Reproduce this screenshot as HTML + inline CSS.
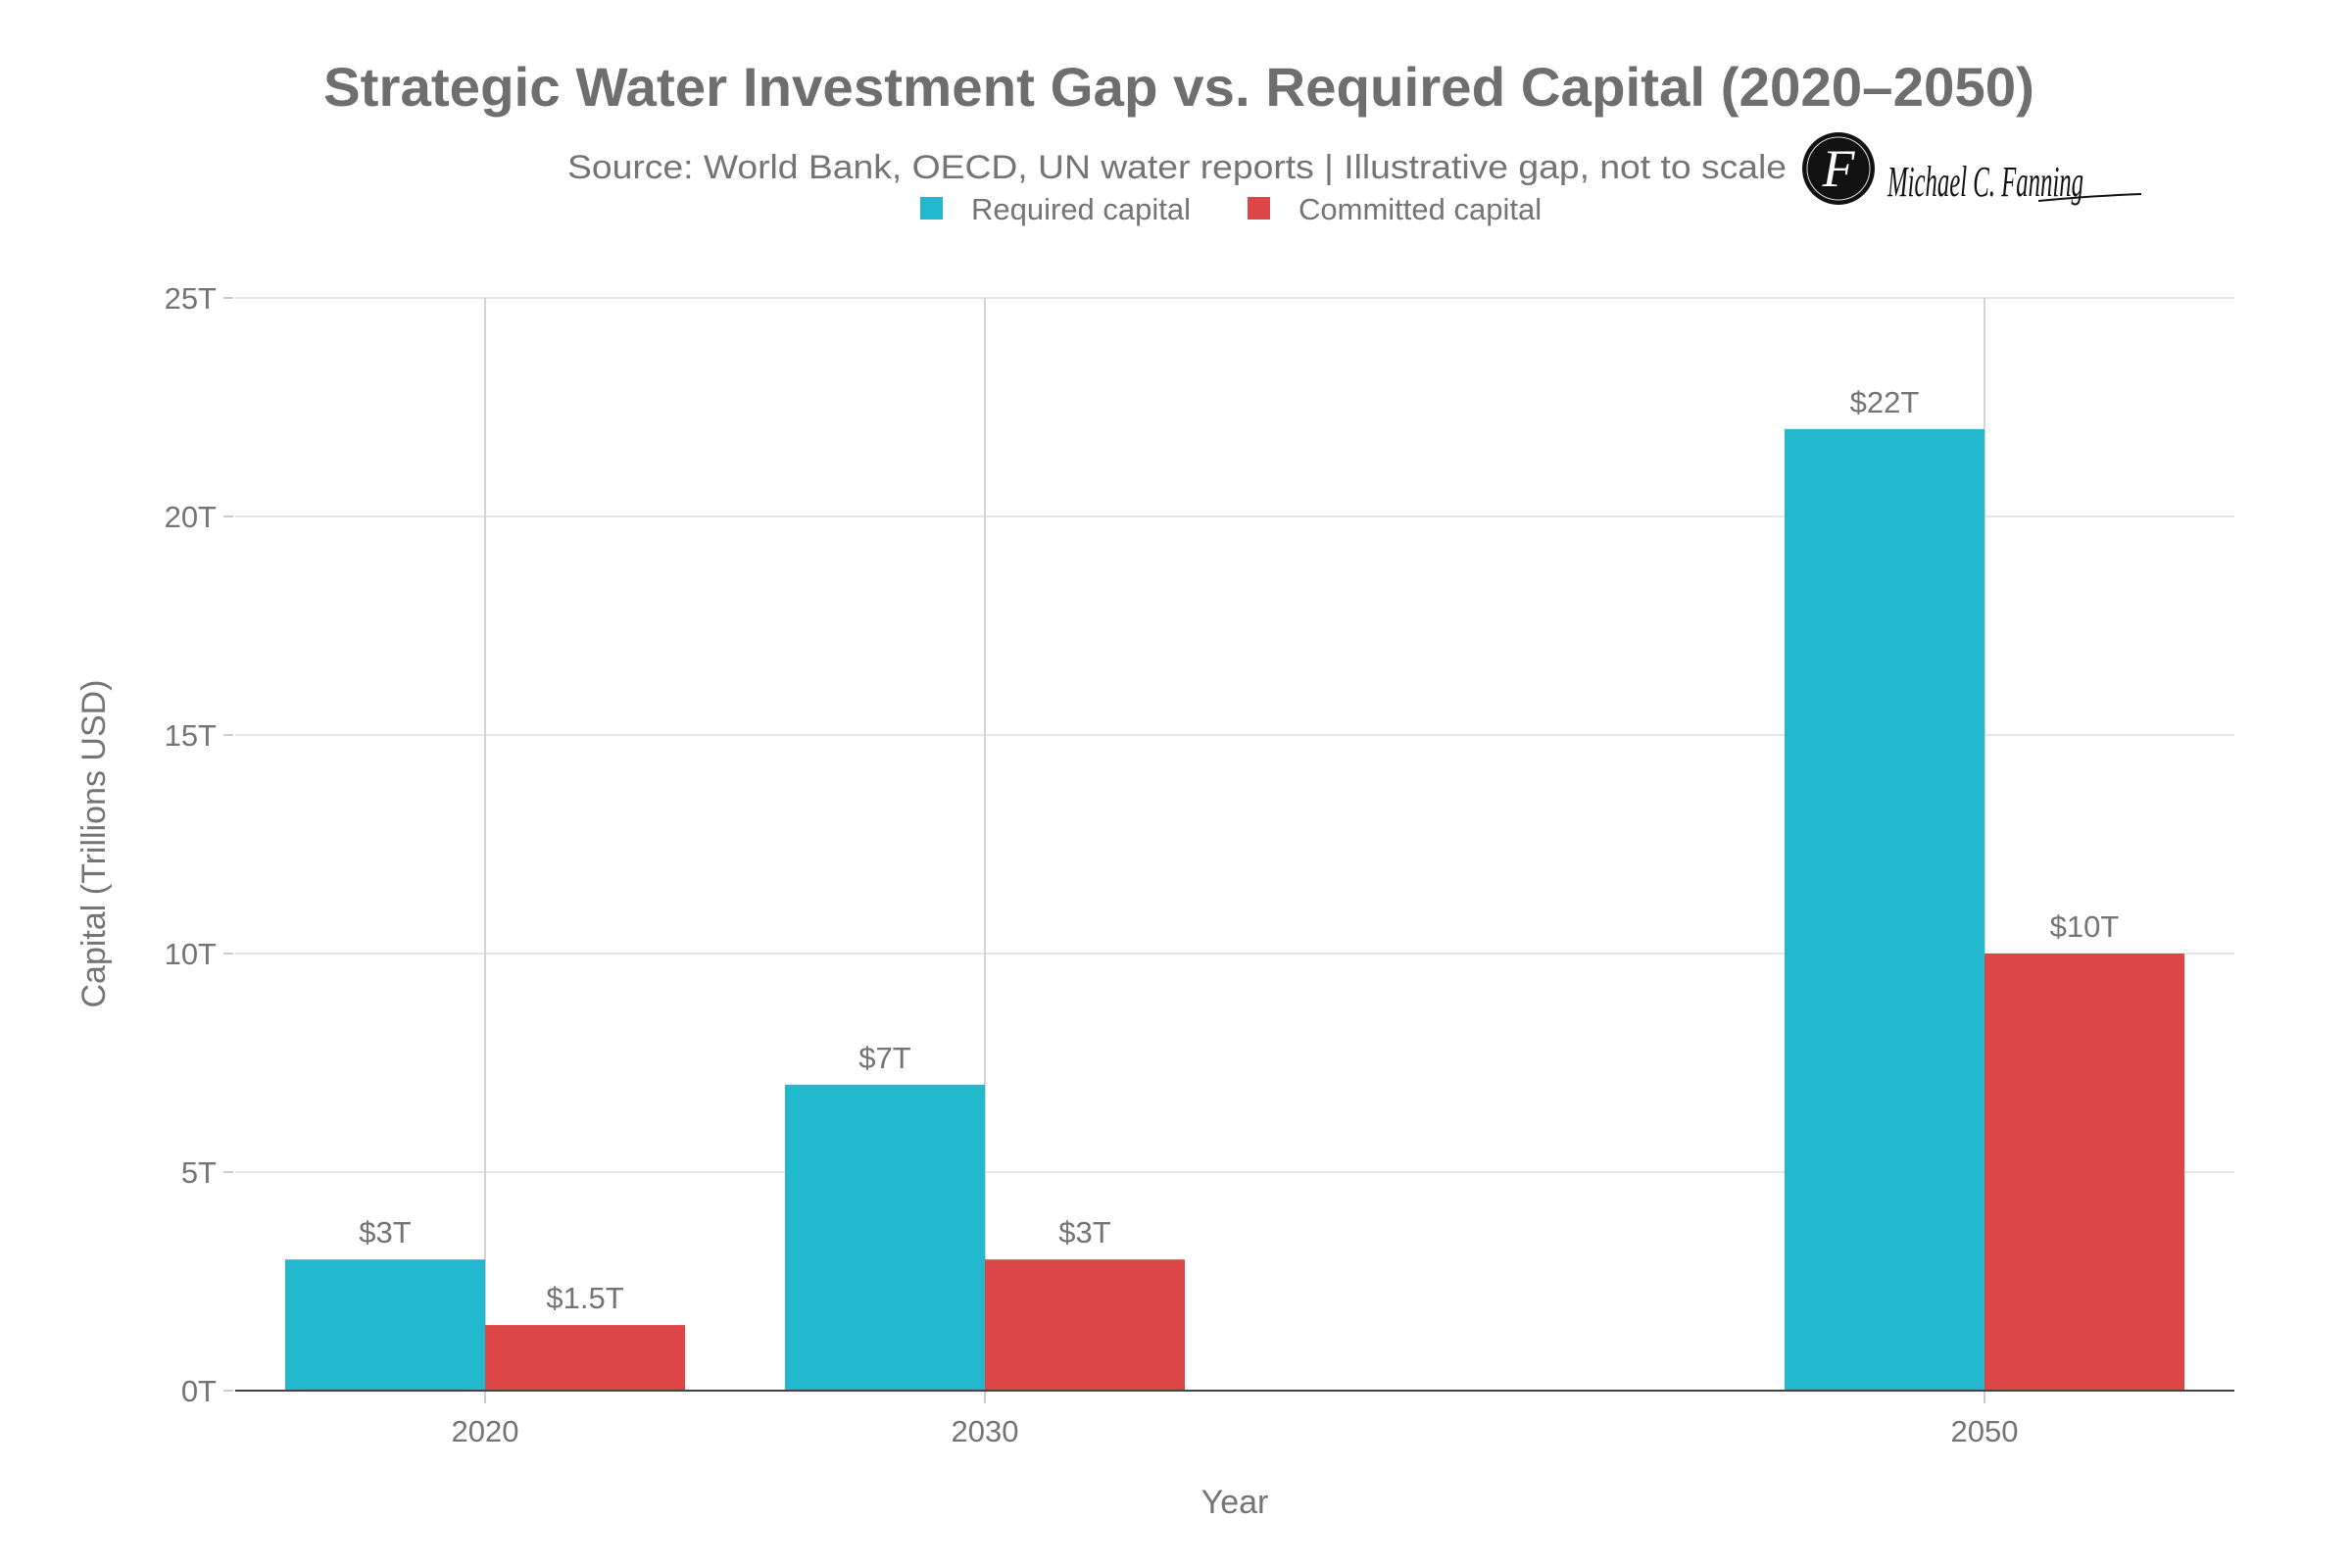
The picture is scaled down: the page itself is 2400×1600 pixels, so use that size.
<!DOCTYPE html>
<html><head><meta charset="utf-8"><style>
html,body{margin:0;padding:0;background:#fff;}
svg{display:block;font-family:"Liberation Sans",Arial,sans-serif;}
</style></head><body>
<svg id="chart" width="2400" height="1600" viewBox="0 0 2400 1600">
<text x="1203" y="108" text-anchor="middle" font-size="56" font-weight="bold" fill="#6e6e6e" textLength="1746" lengthAdjust="spacingAndGlyphs">Strategic Water Investment Gap vs. Required Capital (2020–2050)</text>
<text x="579" y="182" font-size="34" fill="#747474" textLength="1244" lengthAdjust="spacingAndGlyphs">Source: World Bank, OECD, UN water reports | Illustrative gap, not to scale</text>
<g>
<circle cx="1876" cy="172" r="37" fill="#111"/>
<circle cx="1876" cy="172" r="32" fill="none" stroke="#ddd" stroke-width="1"/>
<text x="1876" y="190" text-anchor="middle" font-family="'Liberation Serif',serif" font-style="italic" font-size="54" fill="#fff">F</text>
<text x="1926" y="200" font-family="'Liberation Serif',serif" font-style="italic" font-size="44" fill="#111" textLength="200" lengthAdjust="spacingAndGlyphs">Michael C. Fanning</text>
<path d="M2080 205 Q2130 200 2185 198" stroke="#111" stroke-width="2" fill="none"/>
</g>
<g>
<rect x="939" y="201" width="23" height="23" fill="#22b8cd"/>
<text x="991" y="224" font-size="31" fill="#747474">Required capital</text>
<rect x="1273" y="201" width="23" height="23" fill="#dc4646"/>
<text x="1325" y="224" font-size="31" fill="#747474">Committed capital</text>
</g>
<g id="grid"></g>
<g id="bars"></g>
<g id="axes"></g>
<text x="1260" y="1544" text-anchor="middle" font-size="34" fill="#747474">Year</text>
<text transform="translate(107,861) rotate(-90)" text-anchor="middle" font-size="34" fill="#747474">Capital (Trillions USD)</text>
</svg>
<script>
const years = [2020, 2030, 2050];
const required = [3, 7, 22];
const committed = [1.5, 3, 10];
const requiredLabels = ["$3T", "$7T", "$22T"];
const committedLabels = ["$1.5T", "$3T", "$10T"];
const yTicks = [0, 5, 10, 15, 20, 25];
const yTickLabels = ["0T", "5T", "10T", "15T", "20T", "25T"];

const NS = "http://www.w3.org/2000/svg";
const L = 240, R = 2280, Y0 = 1419, Y1 = 304;
const xMin = 2015, xMax = 2055, yMax = 25;
const xs = v => L + (v - xMin) / (xMax - xMin) * (R - L);
const ys = v => Y0 - v / yMax * (Y0 - Y1);
function mk(tag, attrs, parent, text) {
  const e = document.createElementNS(NS, tag);
  for (const k in attrs) e.setAttribute(k, attrs[k]);
  if (text !== undefined) e.textContent = text;
  parent.appendChild(e);
  return e;
}
const grid = document.getElementById('grid');
const bars = document.getElementById('bars');
const axes = document.getElementById('axes');

yTicks.forEach((t, i) => {
  const y = ys(t);
  if (t > 0) {
    const g = mk('line', {x1: L, x2: R, y1: y, y2: y, stroke: '#e6e6e6', 'stroke-width': 2}, grid);
    
    
  }
  const tk = mk('line', {x1: 228, x2: 238, y1: y, y2: y, stroke: '#cccccc', 'stroke-width': 2}, axes);
  
  
  const lb = mk('text', {x: 221, y: y + 11, 'text-anchor': 'end', 'font-size': 31, fill: '#747474'}, axes, yTickLabels[i]);
  
  
});

years.forEach((yr, i) => {
  const cx = xs(yr);
  const vg = mk('line', {x1: cx, x2: cx, y1: Y1, y2: Y0, stroke: '#d4d4d4', 'stroke-width': 2}, grid);
  
  
  const bw = xs(yr + 4) - xs(yr);
  const b1 = mk('rect', {x: xs(yr - 4), y: ys(required[i]), width: bw, height: Y0 - ys(required[i]), fill: '#22b8cd'}, bars);
  
  
  const b2 = mk('rect', {x: cx, y: ys(committed[i]), width: bw, height: Y0 - ys(committed[i]), fill: '#dc4646'}, bars);
  
  
  const l1 = mk('text', {x: xs(yr - 2), y: ys(required[i]) - 17, 'text-anchor': 'middle', 'font-size': 31, fill: '#747474'}, bars, requiredLabels[i]);
  
  
  const l2 = mk('text', {x: xs(yr + 2), y: ys(committed[i]) - 17, 'text-anchor': 'middle', 'font-size': 31, fill: '#747474'}, bars, committedLabels[i]);
  
  
  const xt = mk('line', {x1: cx, x2: cx, y1: Y0, y2: Y0 + 13, stroke: '#cccccc', 'stroke-width': 2}, axes);
  
  
  const xl = mk('text', {x: cx, y: 1471, 'text-anchor': 'middle', 'font-size': 31, fill: '#747474'}, axes, String(yr));
  
  
});
const ax = mk('line', {x1: L, x2: R, y1: Y0, y2: Y0, stroke: '#444', 'stroke-width': 2}, axes);


</script>
</body></html>
